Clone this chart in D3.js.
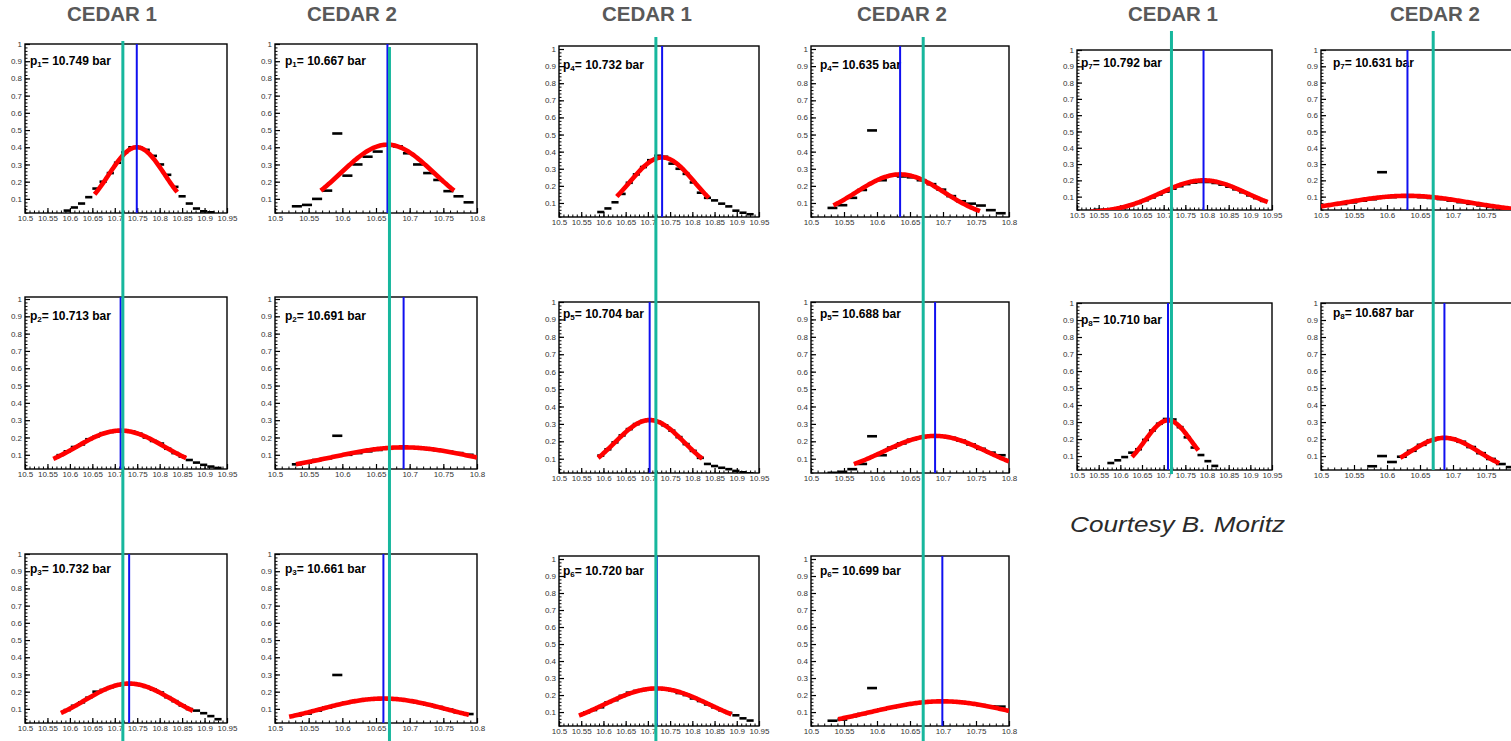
<!DOCTYPE html>
<html>
<head>
<meta charset="utf-8">
<script src="https://cdn.jsdelivr.net/npm/d3@7/dist/d3.min.js"></script>
<style>
  html, body { margin: 0; padding: 0; background: #fff; }
  svg { display: block; }
</style>
</head>
<body>
<svg id="chart" width="1511" height="741"></svg>
<script>
// ---------------- data ----------------
const detectorNames = ["CEDAR 1", "CEDAR 2"];
const cedar1TickLabels = ["10.5", "10.55", "10.6", "10.65", "10.7", "10.75", "10.8", "10.85", "10.9", "10.95"];
const cedar2TickLabels = ["10.5", "10.55", "10.6", "10.65", "10.7", "10.75", "10.8"];
const yTickLabels = ["0.1", "0.2", "0.3", "0.4", "0.5", "0.6", "0.7", "0.8", "0.9", "1"];

// one entry per scan histogram: scan number, detector (0 = CEDAR 1, 1 = CEDAR 2)
const scanIndex    = [1, 1, 2, 2, 3, 3, 4, 4, 5, 5, 6, 6, 7, 7, 8, 8];
const scanDetector = [0, 1, 0, 1, 0, 1, 0, 1, 0, 1, 0, 1, 0, 1, 0, 1];
// fitted mean pressure (bar)
const meanPressure = [10.749, 10.667, 10.713, 10.691, 10.732, 10.661, 10.732, 10.635,
                      10.704, 10.688, 10.720, 10.699, 10.792, 10.631, 10.710, 10.687];
// gaussian fit: peak height, width, fitted range
const fitPeak  = [0.400, 0.415, 0.240, 0.143, 0.247, 0.160, 0.366, 0.267,
                  0.322, 0.231, 0.239, 0.163, 0.200, 0.105, 0.310, 0.207];
const fitSigma = [0.062, 0.069, 0.099, 0.106, 0.099, 0.095, 0.073, 0.067,
                  0.0775, 0.079, 0.118, 0.110, 0.100, 0.095, 0.054, 0.052];
const fitFrom  = [10.655, 10.568, 10.563, 10.531, 10.580, 10.521, 10.630, 10.534,
                  10.588, 10.565, 10.545, 10.541, 10.530, 10.500, 10.627, 10.620];
const fitTo    = [10.839, 10.766, 10.859, 10.800, 10.874, 10.788, 10.837, 10.756,
                  10.8225, 10.800, 10.888, 10.800, 10.940, 10.800, 10.780, 10.770];
// histogram bins: centre of the first bin, bin widths per detector, contents
const binWidth = [0.016, 0.015];
const firstBinCentre = [10.594, 10.5325, 10.578, 10.5325, 10.594, 10.5325, 10.594, 10.5325,
                        10.594, 10.5325, 10.562, 10.5325, 10.546, 10.5325, 10.578, 10.5775];
const binValues = [
  [0.032, 0.05, 0.073, 0.11, 0.16, 0.20, 0.25, 0.31, 0.37, 0.40, 0.40, 0.385, 0.35, 0.30, 0.24, 0.17, 0.115, 0.073, 0.044, 0.028, 0.022],
  [0.057, 0.065, 0.10, 0.148, 0.48, 0.235, 0.30, 0.345, 0.375, 0.415, 0.405, 0.365, 0.30, 0.25, 0.21, 0.145, 0.115, 0.08],
  [0.098, 0.12, 0.145, 0.16, 0.19, 0.205, 0.225, 0.232, 0.238, 0.24, 0.235, 0.222, 0.20, 0.18, 0.165, 0.135, 0.11, 0.09, 0.07, 0.055, 0.042, 0.032, 0.024],
  [0.045, 0.055, 0.07, 0.08, 0.21, 0.10, 0.11, 0.12, 0.128, 0.135, 0.14, 0.142, 0.14, 0.134, 0.126, 0.118, 0.11, 0.10],
  [0.093, 0.118, 0.138, 0.165, 0.20, 0.21, 0.226, 0.238, 0.245, 0.246, 0.24, 0.228, 0.212, 0.195, 0.168, 0.145, 0.12, 0.099, 0.09, 0.075, 0.058, 0.04],
  [0.062, 0.073, 0.09, 0.108, 0.297, 0.137, 0.147, 0.155, 0.159, 0.16, 0.156, 0.149, 0.138, 0.125, 0.111, 0.096, 0.08, 0.07],
  [0.047, 0.068, 0.104, 0.153, 0.218, 0.267, 0.31, 0.35, 0.376, 0.37, 0.33, 0.30, 0.27, 0.22, 0.16, 0.13, 0.115, 0.096, 0.08, 0.055, 0.043, 0.034],
  [0.071, 0.087, 0.13, 0.176, 0.524, 0.233, 0.26, 0.255, 0.25, 0.233, 0.21, 0.178, 0.14, 0.11, 0.096, 0.085, 0.058, 0.04],
  [0.118, 0.154, 0.194, 0.234, 0.27, 0.299, 0.317, 0.322, 0.313, 0.292, 0.261, 0.224, 0.184, 0.145, 0.105, 0.07, 0.058, 0.048, 0.04, 0.03, 0.022, 0.016],
  [0.019, 0.025, 0.04, 0.07, 0.229, 0.12, 0.164, 0.188, 0.209, 0.223, 0.231, 0.229, 0.22, 0.204, 0.182, 0.157, 0.135, 0.12],
  [0.098, 0.112, 0.128, 0.157, 0.17, 0.195, 0.214, 0.224, 0.23, 0.236, 0.24, 0.232, 0.226, 0.212, 0.20, 0.18, 0.165, 0.145, 0.128, 0.11, 0.095, 0.081, 0.063, 0.05],
  [0.049, 0.056, 0.075, 0.089, 0.241, 0.115, 0.128, 0.139, 0.149, 0.156, 0.161, 0.163, 0.162, 0.158, 0.151, 0.141, 0.134, 0.132],
  [0.02, 0.02, 0.022, 0.027, 0.036, 0.048, 0.061, 0.078, 0.095, 0.113, 0.131, 0.149, 0.164, 0.177, 0.186, 0.19, 0.19, 0.184, 0.174, 0.161, 0.145, 0.127, 0.108, 0.091, 0.074],
  [0.055, 0.065, 0.075, 0.084, 0.25, 0.097, 0.10, 0.10, 0.097, 0.092, 0.085, 0.076, 0.066, 0.056, 0.046, 0.037, 0.029, 0.022],
  [0.059, 0.075, 0.094, 0.12, 0.14, 0.195, 0.25, 0.29, 0.318, 0.315, 0.27, 0.21, 0.15, 0.106, 0.07, 0.042],
  [0.04, 0.10, 0.065, 0.096, 0.131, 0.166, 0.193, 0.206, 0.203, 0.184, 0.153, 0.117, 0.083, 0.053, 0.035]
];
// reference pressure marked across each detector column (bar)
const referencePressure = [10.718, 10.670];
const creditText = "Courtesy B. Moritz";

// ---------------- layout ----------------
const PAGE_W = 1511;
const yFloor = 0.018;
// plot frames, one per histogram (pad = gap between frame top and the 1.0 level)
const frames = [
  {x: 25,   y: 44,  w: 202, h: 169, pad: 0, lx: 5,  ly: 0.90},
  {x: 275,  y: 44,  w: 202, h: 169, pad: 0, lx: 10, ly: 0.90},
  {x: 25,   y: 297, w: 202, h: 172, pad: 2, lx: 5,  ly: 0.90},
  {x: 275,  y: 297, w: 202, h: 172, pad: 2, lx: 10, ly: 0.90},
  {x: 25,   y: 554, w: 202, h: 169, pad: 0, lx: 5,  ly: 0.91},
  {x: 275,  y: 554, w: 202, h: 169, pad: 0, lx: 10, ly: 0.91},
  {x: 559,  y: 46,  w: 200, h: 171, pad: 3, lx: 4,  ly: 0.905},
  {x: 811,  y: 46,  w: 198, h: 171, pad: 3, lx: 9,  ly: 0.905},
  {x: 559,  y: 302, w: 200, h: 171, pad: 0, lx: 4,  ly: 0.93},
  {x: 811,  y: 302, w: 198, h: 171, pad: 0, lx: 9,  ly: 0.93},
  {x: 559,  y: 556, w: 200, h: 170, pad: 3, lx: 4,  ly: 0.93},
  {x: 811,  y: 556, w: 198, h: 170, pad: 3, lx: 9,  ly: 0.93},
  {x: 1077, y: 50,  w: 195, h: 160, pad: 0, lx: 4,  ly: 0.92},
  {x: 1321, y: 50,  w: 198, h: 160, pad: 0, lx: 12, ly: 0.92},
  {x: 1077, y: 303, w: 195, h: 167, pad: 0, lx: 4,  ly: 0.90},
  {x: 1321, y: 303, w: 198, h: 167, pad: 0, lx: 12, ly: 0.94}
];
// detector columns: histograms stacked in each, title position, reference line extent
const columns = [
  {panels: [0, 2, 4],   tx: 112,  y1: 41, y2: 741},
  {panels: [1, 3, 5],   tx: 352,  y1: 47, y2: 741},
  {panels: [6, 8, 10],  tx: 647,  y1: 37, y2: 741},
  {panels: [7, 9, 11],  tx: 902,  y1: 37, y2: 741},
  {panels: [12, 14],    tx: 1173, y1: 31, y2: 474},
  {panels: [13, 15],    tx: 1435, y1: 31, y2: 470}
];

const FONT = "'Liberation Sans', Arial, Helvetica, sans-serif";
const svg = d3.select("#chart");
const defs = svg.append("defs");

const panels = meanPressure.map((p, i) => ({
  scan: scanIndex[i], det: scanDetector[i], mean: p,
  peak: fitPeak[i], sigma: fitSigma[i], from: fitFrom[i], to: fitTo[i],
  bins: binValues[i].map((v, k) => ({c: firstBinCentre[i] + k * binWidth[scanDetector[i]], v}))
}));

function xScaleFor(i) {
  const f = frames[i];
  const labels = panels[i].det === 0 ? cedar1TickLabels : cedar2TickLabels;
  return d3.scaleLinear().domain([+labels[0], +labels[labels.length - 1]]).range([f.x, f.x + f.w]);
}
function yScaleFor(i) {
  const f = frames[i];
  return d3.scaleLinear().domain([yFloor, 1]).range([f.y + f.h, f.y + f.pad]);
}

const gauss = (d, v) => d.peak * Math.exp(-((v - d.mean) ** 2) / (2 * d.sigma * d.sigma));

panels.forEach((d, i) => {
  const f = frames[i];
  const x = xScaleFor(i);
  const y = yScaleFor(i);
  const labels = d.det === 0 ? cedar1TickLabels : cedar2TickLabels;
  const g = svg.append("g").attr("class", "panel");

  const clipId = "frame-clip-" + i;
  defs.append("clipPath").attr("id", clipId)
    .append("rect").attr("x", f.x).attr("y", f.y).attr("width", f.w).attr("height", f.h);

  // minor ticks
  const xMinor = d3.range(Math.round(x.domain()[0] * 100), Math.round(x.domain()[1] * 100) + 1).map(v => v / 100);
  g.append("g").attr("transform", `translate(0,${f.y + f.h})`)
    .call(d3.axisBottom(x).tickValues(xMinor).tickSize(-2.5).tickFormat(""))
    .call(a => a.select(".domain").remove())
    .call(a => a.selectAll("line").attr("stroke", "#000").attr("stroke-width", 1));
  const yMinor = d3.range(1, 51).map(v => v / 50);
  g.append("g").attr("transform", `translate(${f.x},0)`)
    .call(d3.axisLeft(y).tickValues(yMinor).tickSize(-2.5).tickFormat(""))
    .call(a => a.select(".domain").remove())
    .call(a => a.selectAll("line").attr("stroke", "#000").attr("stroke-width", 1));

  // major ticks with labels (labels falling past the page edge are left out)
  g.append("g").attr("transform", `translate(0,${f.y + f.h})`)
    .call(d3.axisBottom(x).tickValues(labels.map(Number)).tickSize(-5).tickPadding(2)
      .tickFormat((v, k) => (x(v) + 6 > PAGE_W ? "" : labels[k])))
    .call(a => a.select(".domain").remove())
    .call(a => a.selectAll("line").attr("stroke", "#000").attr("stroke-width", 1.2))
    .call(a => a.selectAll("text").attr("font-family", FONT).attr("font-size", 8)
      .attr("fill", "#333").attr("y", 2).attr("dy", "0.71em"));
  g.append("g").attr("transform", `translate(${f.x},0)`)
    .call(d3.axisLeft(y).tickValues(yTickLabels.map(Number)).tickSize(-5).tickPadding(3)
      .tickFormat((v, k) => yTickLabels[k]))
    .call(a => a.select(".domain").remove())
    .call(a => a.selectAll("line").attr("stroke", "#000").attr("stroke-width", 1.2))
    .call(a => a.selectAll("text").attr("font-family", FONT).attr("font-size", 8).attr("fill", "#333"));

  // frame
  g.append("rect").attr("x", f.x).attr("y", f.y).attr("width", f.w).attr("height", f.h)
    .attr("fill", "none").attr("stroke", "#000").attr("stroke-width", 1.4);

  // pressure label
  const t = g.append("text").attr("x", f.x + f.lx).attr("y", y(f.ly))
    .attr("dominant-baseline", "central")
    .attr("font-family", FONT).attr("font-weight", "bold").attr("font-size", 12).attr("fill", "#000");
  t.append("tspan").text("p");
  t.append("tspan").attr("font-size", 8).attr("dy", 3).text(d.scan);
  t.append("tspan").attr("dy", -3).text("= " + d.mean.toFixed(3) + " bar");

  const inner = g.append("g").attr("clip-path", `url(#${clipId})`);

  // histogram contents
  const w = binWidth[d.det];
  inner.selectAll("line.bin").data(d.bins).join("line").attr("class", "bin")
    .attr("x1", b => x(b.c - w / 2)).attr("x2", b => x(b.c + w / 2))
    .attr("y1", b => y(b.v)).attr("y2", b => y(b.v))
    .attr("stroke", "#000").attr("stroke-width", 2.6);

  // gaussian fit
  const pts = d3.range(d.from, d.to, 0.002).concat([d.to]).map(v => [v, gauss(d, v)]);
  inner.append("path").datum(pts)
    .attr("d", d3.line().x(p => x(p[0])).y(p => y(p[1])))
    .attr("fill", "none").attr("stroke", "#ff0000").attr("stroke-width", 4.6)
    .attr("stroke-linejoin", "round");

  // fitted mean
  g.append("line").attr("x1", x(d.mean)).attr("x2", x(d.mean))
    .attr("y1", f.y).attr("y2", f.y + f.h)
    .attr("stroke", "#1010f0").attr("stroke-width", 2);
});

// reference lines and column titles
columns.forEach((col) => {
  const top = col.panels[0];
  const x = xScaleFor(top);
  const det = panels[top].det;
  svg.append("line")
    .attr("x1", x(referencePressure[det])).attr("x2", x(referencePressure[det]))
    .attr("y1", col.y1).attr("y2", col.y2)
    .attr("stroke", "#17b79d").attr("stroke-width", 3);
  svg.append("text").attr("x", col.tx).attr("y", 21)
    .attr("text-anchor", "middle")
    .attr("font-family", FONT).attr("font-weight", "bold").attr("font-size", 20.5)
    .attr("fill", "#595959").text(detectorNames[det]);
});

svg.append("text").attr("x", 1070).attr("y", 532)
  .attr("font-family", FONT).attr("font-style", "italic").attr("font-size", 22)
  .attr("fill", "#2b2b2b").attr("textLength", 215).attr("lengthAdjust", "spacingAndGlyphs")
  .text(creditText);
</script>
</body>
</html>
